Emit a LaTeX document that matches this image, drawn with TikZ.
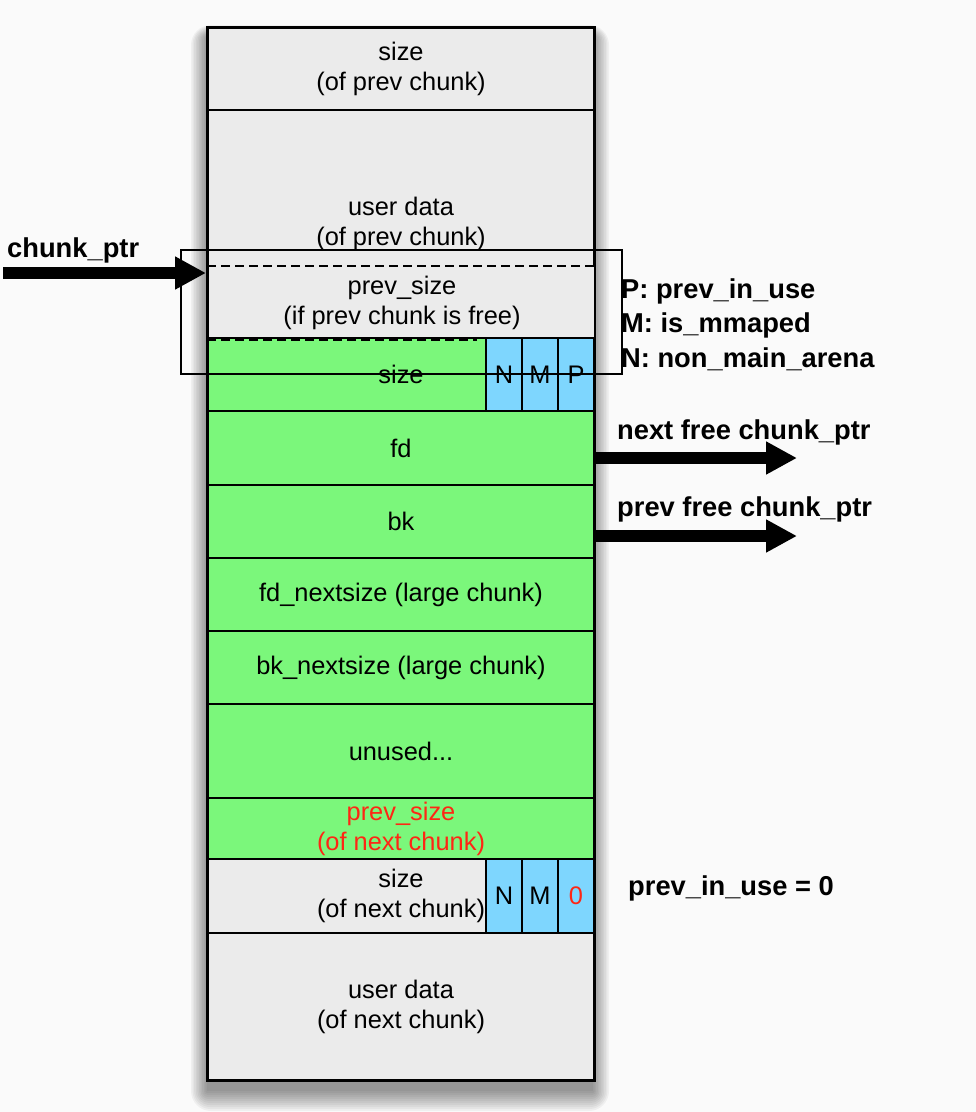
\documentclass[tikz,border=0pt]{standalone}
\usepackage{fontspec}
\setmainfont{Liberation Sans}
\usetikzlibrary{arrows.meta,calc}
\definecolor{cellgrey}{RGB}{235,235,235}
\definecolor{cellgreen}{RGB}{123,247,123}
\definecolor{cellblue}{RGB}{126,214,254}
\definecolor{txtred}{RGB}{255,38,20}
\definecolor{bgcol}{RGB}{250,250,250}
\begin{document}
\begin{tikzpicture}[x=1pt,y=-1pt,
  cell/.style={draw=black,line width=2pt,rectangle,inner sep=0pt,
    minimum width=386pt,anchor=north west,align=center,
    font=\fontsize{25.4}{30}\selectfont},
  greycell/.style={cell,fill=cellgrey},
  greencell/.style={cell,fill=cellgreen},
  flagbox/.style={draw=black,line width=2pt,rectangle,inner sep=0pt,
    fill=cellblue,minimum width=36pt,anchor=north west,
    font=\fontsize{25.4}{30}\selectfont},
  lbl/.style={inner sep=0pt,anchor=west,font=\fontsize{27.3}{32}\selectfont\bfseries},
  bigarrow/.style={line width=11.5pt,-{Triangle[length=31pt,width=31pt]}},
  dashline/.style={line width=2pt,dash pattern=on 9pt off 5pt}
]
\useasboundingbox (0,0) rectangle (976,1112);
\fill[bgcol] (0,0) rectangle (976,1112);
% soft shadow
\foreach \r in {20,18,...,0}{
  \fill[black,opacity=0.045,rounded corners=\r pt]
    (207-\r*0.8,27+10-\r*0.6) rectangle (593+\r*0.8,1079+12+\r);
}
% cells
\node[greycell,minimum height=82pt] (top) at (207,27) {size\\(of prev chunk)};
\node[greycell,minimum height=228pt] (udp) at (207,109) {user data\\(of prev chunk)};
\node[cell,draw=none,fill=cellgrey,minimum height=71pt] (psz) at (208,266) {prev\_size\\(if prev chunk is free)};
\draw[dashline] (207,266) -- (593,266);
\node[greencell,minimum height=73pt] (sz) at (207,337) {size};
\node[flagbox,minimum height=73pt] (fN) at (485,337) {N};
\node[flagbox,minimum height=73pt] (fM) at (521,337) {M};
\node[flagbox,minimum height=73pt] (fP) at (557,337) {P};
\draw[dashline] ($(sz.north west)+(0,2.5)$) -- ($(fN.north west)+(-8,2.5)$);
\node[greencell,minimum height=74pt] (fd) at (207,410) {fd};
\node[greencell,minimum height=73pt] (bk) at (207,484) {bk};
\node[greencell,minimum height=73pt] (fdn) at (207,557) {fd\_nextsize (large chunk)};
\node[greencell,minimum height=73pt] (bkn) at (207,630) {bk\_nextsize (large chunk)};
\node[greencell,minimum height=94pt] (unu) at (207,703) {unused...};
\node[greencell,minimum height=61pt,text=txtred] (psn) at (207,797) {prev\_size\\(of next chunk)};
\node[greycell,minimum height=74pt] (szn) at (207,858) {size\\(of next chunk)};
\node[flagbox,minimum height=74pt] (gN) at (485,858) {N};
\node[flagbox,minimum height=74pt] (gM) at (521,858) {M};
\node[flagbox,minimum height=74pt,text=txtred] (gP) at (557,858) {0};
\node[greycell,minimum height=147pt] (udn) at (207,932) {user data\\(of next chunk)};
\draw[line width=2.5pt] (top.north west) rectangle (udn.south east);
% header frame
\node[draw=black,line width=1.5pt,rectangle,inner sep=0pt,minimum width=441pt,
  minimum height=124pt,anchor=north west] (hdr) at (180,249) {};
% arrows
\coordinate (cpS) at (3,273);
\coordinate (cpE) at (206,273);
\draw[bigarrow] (cpS) -- (cpE);
\draw[bigarrow] ([yshift=-10pt]fd.east) -- ++(202,0) coordinate (nfE);
\draw[bigarrow] ([yshift=-14.5pt]bk.east) -- ++(202,0) coordinate (pfE);
% labels
\node[lbl] (lcp) at (7,250) {chunk\_ptr};
\node[lbl] (lP) at (621,291) {P: prev\_in\_use};
\node[lbl] (lM) at (621,325) {M: is\_mmaped};
\node[lbl] (lN) at (621,359) {N: non\_main\_arena};
\node[lbl] (lnf) at (617,432) {next free chunk\_ptr};
\node[lbl] (lpf) at (617,509) {prev free chunk\_ptr};
\node[lbl] (liu) at (628,888) {prev\_in\_use = 0};
\end{tikzpicture}
\end{document}
